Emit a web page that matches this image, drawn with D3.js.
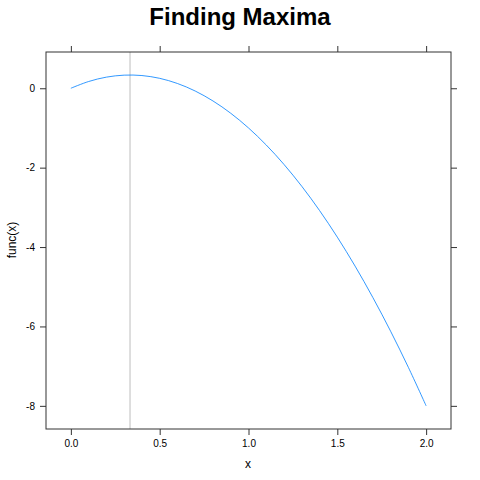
<!DOCTYPE html>
<html>
<head>
<meta charset="utf-8">
<script src="https://cdn.jsdelivr.net/npm/d3@7"></script>
<style>
  body { margin: 0; background: #fff; }
  text { font-family: "Liberation Sans", Arial, Helvetica, sans-serif; }
</style>
</head>
<body>
<svg id="chart" width="480" height="480"></svg>
<script>
// values
const xValues = [0, 0.1, 0.2, 0.3, 0.4, 0.5, 0.6, 0.7, 0.8, 0.9, 1.0,
                 1.1, 1.2, 1.3, 1.4, 1.5, 1.6, 1.7, 1.8, 1.9, 2.0]
const yValues = [0, 0.17, 0.28, 0.33, 0.32, 0.25, 0.12, -0.07, -0.32, -0.63, -1,
                 -1.43, -1.92, -2.47, -3.08, -3.75, -4.48, -5.27, -6.12, -7.03, -8]
const maxX = 0.333
const xTicks = [0, 0.5, 1.0, 1.5, 2.0]
const yTicks = [0, -2, -4, -6, -8]

const svg = d3.select('#chart')
const panel = { left: 46, right: 451, top: 52, bottom: 429 }

// lattice pads the data range by 7% on each side
const xr = d3.extent(xValues), yr = d3.extent(yValues)
const xPad = (xr[1] - xr[0]) * 0.07, yPad = (yr[1] - yr[0]) * 0.07
const x = d3.scaleLinear().domain([xr[0] - xPad, xr[1] + xPad]).range([panel.left, panel.right])
const y = d3.scaleLinear().domain([yr[0] - yPad, yr[1] + yPad]).range([panel.bottom, panel.top])

// axes: labels on bottom/left, bare ticks on top/right
const tickLen = 6
function styleAxis(g) {
    g.select('.domain').remove()
    g.selectAll('line').attr('stroke', '#333')
    g.selectAll('text').attr('font-size', 10).attr('fill', '#000')
}
svg.append('g').attr('transform', `translate(0,${panel.bottom})`)
    .call(d3.axisBottom(x).tickValues(xTicks).tickFormat(d => d.toFixed(1)).tickSize(tickLen).tickPadding(5))
    .call(styleAxis)
svg.append('g').attr('transform', `translate(0,${panel.top})`)
    .call(d3.axisTop(x).tickValues(xTicks).tickFormat('').tickSize(tickLen))
    .call(styleAxis)
svg.append('g').attr('transform', `translate(${panel.left},0)`)
    .call(d3.axisLeft(y).tickValues(yTicks).tickFormat(d => String(d)).tickSize(tickLen).tickPadding(5))
    .call(styleAxis)
svg.append('g').attr('transform', `translate(${panel.right},0)`)
    .call(d3.axisRight(y).tickValues(yTicks).tickFormat('').tickSize(tickLen))
    .call(styleAxis)

// vertical line at the maximum
svg.append('line')
    .attr('x1', x(maxX)).attr('x2', x(maxX))
    .attr('y1', panel.top).attr('y2', panel.bottom)
    .attr('stroke', '#c8c8c8').attr('stroke-width', 1.2)

const line = d3.line()
    .x((d, i) => x(xValues[i]))
    .y(d => y(d))
    .curve(d3.curveCatmullRom)
svg.append('path')
    .datum(yValues)
    .attr('d', line)
    .attr('fill', 'none')
    .attr('stroke', '#0080ff')
    .attr('stroke-opacity', 0.8)
    .attr('stroke-width', 1)

// panel box
svg.append('rect')
    .attr('x', panel.left).attr('y', panel.top)
    .attr('width', panel.right - panel.left).attr('height', panel.bottom - panel.top)
    .attr('fill', 'none').attr('stroke', '#333').attr('stroke-width', 1)

svg.append('text')
    .attr('x', 240).attr('y', 25)
    .attr('text-anchor', 'middle')
    .attr('font-size', 24).attr('font-weight', 'bold')
    .text('Finding Maxima')

svg.append('text')
    .attr('x', 248).attr('y', 468)
    .attr('text-anchor', 'middle')
    .attr('font-size', 12)
    .text('x')

svg.append('text')
    .attr('transform', 'translate(16,240) rotate(-90)')
    .attr('text-anchor', 'middle')
    .attr('font-size', 12)
    .text('func(x)')
</script>
</body>
</html>
